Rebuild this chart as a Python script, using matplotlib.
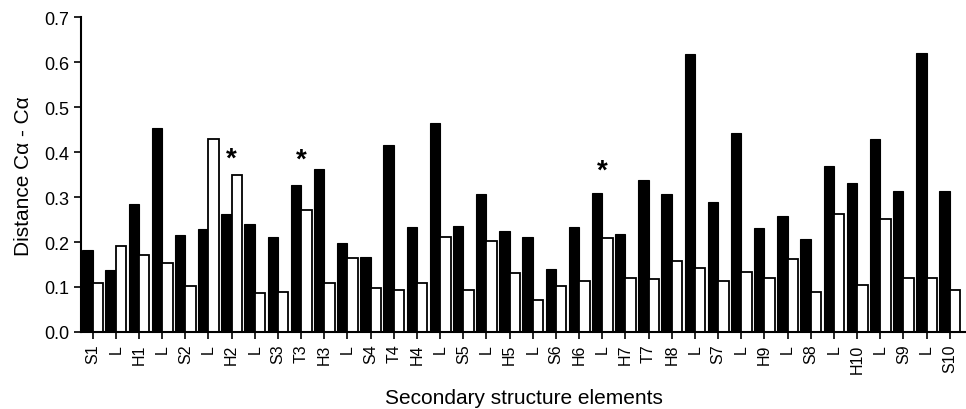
import matplotlib
matplotlib.use("Agg")
import matplotlib.pyplot as plt
import numpy as np

plt.rcParams['font.family'] = ['Liberation Sans', 'DejaVu Sans']

# Secondary structure elements along the x axis
elements = ["S1", "L", "H1", "L", "S2", "L", "H2", "L", "S3", "T3", "H3", "L",
            "S4", "T4", "H4", "L", "S5", "L", "H5", "L", "S6", "H6", "L", "H7",
            "T7", "H8", "L", "S7", "L", "H9", "L", "S8", "L", "H10", "L", "S9",
            "L", "S10"]

# black bars
black_vals = [0.183, 0.138, 0.285, 0.455, 0.215, 0.230, 0.263, 0.240, 0.212, 0.326,
              0.362, 0.198, 0.166, 0.417, 0.233, 0.466, 0.236, 0.308, 0.224, 0.212,
              0.140, 0.233, 0.309, 0.219, 0.338, 0.306, 0.618, 0.290, 0.442, 0.231,
              0.258, 0.206, 0.370, 0.332, 0.430, 0.313, 0.620, 0.313]

# white bars
white_vals = [0.110, 0.192, 0.172, 0.153, 0.102, 0.430, 0.349, 0.087, 0.089, 0.272,
              0.108, 0.164, 0.098, 0.094, 0.108, 0.212, 0.094, 0.202, 0.132, 0.072,
              0.103, 0.114, 0.210, 0.119, 0.117, 0.158, 0.142, 0.113, 0.134, 0.120,
              0.162, 0.088, 0.263, 0.104, 0.251, 0.120, 0.120, 0.094]

# asterisks: (element index, height)
star_idx = [6, 9, 22]
star_y = [0.385, 0.383, 0.360]

x = np.arange(len(elements))
w = 0.45

fig = plt.figure(figsize=(9.66, 4.10), dpi=100)
ax = fig.add_axes([0.0839, 0.188, 0.9161, 0.767])

ax.bar(x - w / 2, black_vals, width=w, color='black', edgecolor='black', linewidth=0.8)
ax.bar(x + w / 2, white_vals, width=w, color='white', edgecolor='black', linewidth=1.3)

for i, yv in zip(star_idx, star_y):
    ax.text(x[i], yv, "*", ha='center', va='center', fontsize=20, fontweight='bold')

ax.set_xlim(-0.5, 37.7)
ax.set_ylim(0, 0.7)
ax.set_yticks(np.arange(0, 0.71, 0.1))
ax.set_yticklabels([f"{v:.1f}" for v in np.arange(0, 0.71, 0.1)], fontsize=13)
ax.set_xticks(x)
ax.set_xticklabels(elements, rotation=90, fontsize=11.5)
ax.tick_params(axis='both', direction='out', length=5, width=1.2)

ax.spines['top'].set_visible(False)
ax.spines['right'].set_visible(False)
ax.spines['left'].set_linewidth(1.5)
ax.spines['bottom'].set_linewidth(1.5)

ax.set_ylabel("Distance Cα - Cα", fontsize=15, labelpad=8)
ax.set_xlabel("Secondary structure elements", fontsize=15)
ax.xaxis.set_label_coords(0.5, -0.178)

fig.savefig("out.png", dpi=100)
